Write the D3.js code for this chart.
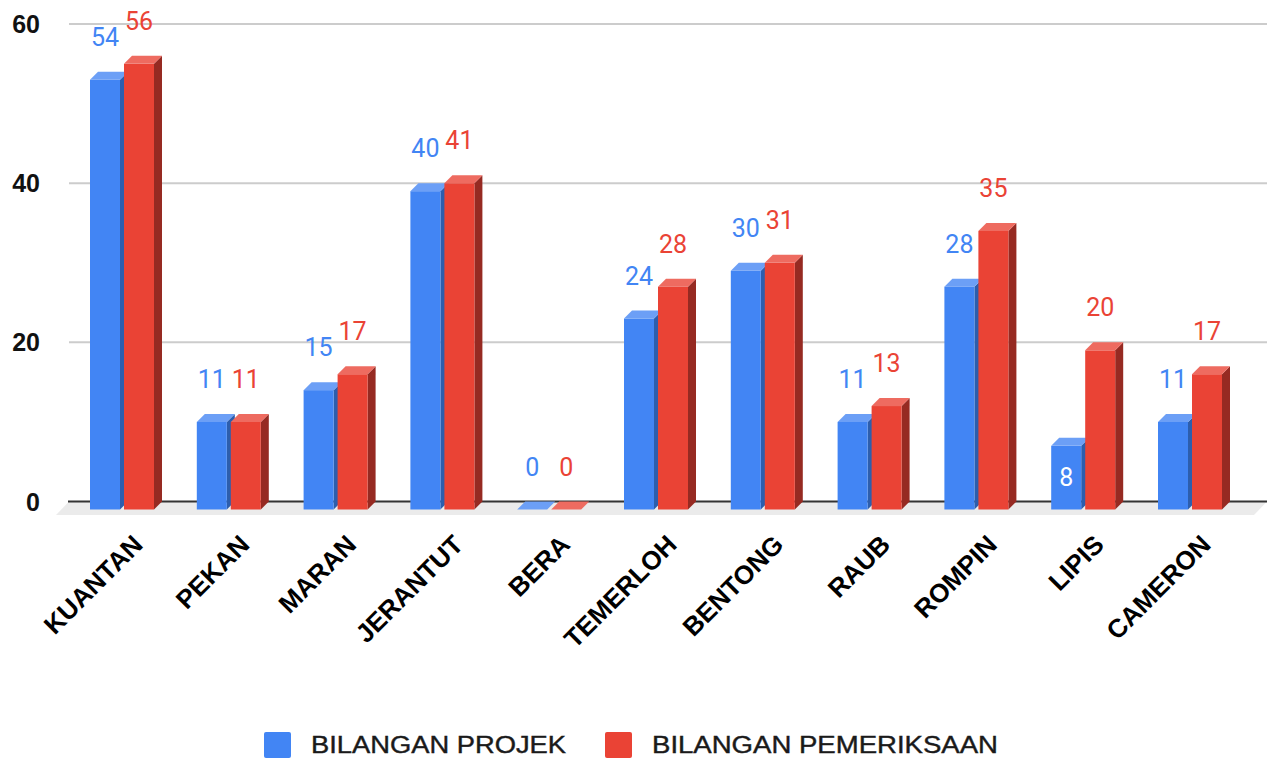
<!DOCTYPE html>
<html>
<head>
<meta charset="utf-8">
<script src="https://cdn.jsdelivr.net/npm/d3@7"></script>
<style>
  body { margin: 0; background: #fff; }
</style>
</head>
<body>
<div id="plot"></div>
<script>
const districts = ["KUANTAN", "PEKAN", "MARAN", "JERANTUT", "BERA", "TEMERLOH", "BENTONG", "RAUB", "ROMPIN", "LIPIS", "CAMERON"];
const projek = [54, 11, 15, 40, 0, 24, 30, 11, 28, 8, 11];
const pemeriksaan = [56, 11, 17, 41, 0, 28, 31, 13, 35, 20, 17];
const seriesNames = ["BILANGAN PROJEK", "BILANGAN PEMERIKSAAN"];
const yTicks = [0, 20, 40, 60];

const width = 1271, height = 761;
const depth = 8;          // 3d offset of the bars
const barW = 30;

const front = ["#4285f4", "#ea4335"];
const topCol = ["#6c9ff6", "#ee6b60"];
const sideCol = ["#2d5ead", "#962a22"];

const svg = d3.select("#plot").append("svg")
  .attr("width", width)
  .attr("height", height)
  .style("font-family", "Arial, 'Liberation Sans', sans-serif");

const y = d3.scaleLinear().domain([0, 60]).range([501.5, 24]);
const x = d3.scaleBand().domain(districts).range([68.6, 1243.4]);

const gridX0 = 69, gridX1 = 1267;

// gridlines
svg.selectAll(".grid")
  .data(yTicks.filter(d => d !== 0))
  .enter().append("line")
  .attr("x1", gridX0).attr("x2", gridX1)
  .attr("y1", d => y(d)).attr("y2", d => y(d))
  .attr("stroke", "#cccccc").attr("stroke-width", 2);

// floor
const y0 = y(0);
svg.append("path")
  .attr("d", `M${gridX0},${y0} L${gridX1},${y0} L${gridX1 - 13},${y0 + 13.5} L${gridX0 - 13},${y0 + 13.5} Z`)
  .attr("fill", "#ebebeb");

svg.append("line")
  .attr("x1", gridX0 - 1).attr("x2", gridX1)
  .attr("y1", y0).attr("y2", y0)
  .attr("stroke", "#333").attr("stroke-width", 2);

// y axis labels
svg.selectAll(".ylab")
  .data(yTicks)
  .enter().append("text")
  .attr("x", 40)
  .attr("y", d => y(d))
  .attr("dy", "0.36em")
  .attr("text-anchor", "end")
  .attr("font-weight", "bold")
  .attr("font-size", 25)
  .attr("fill", "#111")
  .text(d => d);

// bars
const bars = [];
districts.forEach((name, i) => {
  [projek[i], pemeriksaan[i]].forEach((v, s) => {
    const cx = x(name) + x.bandwidth() / 2;
    const fx = cx - 32 + s * 34;
    bars.push({ name, v, s, fx, other: s === 0 ? pemeriksaan[i] : projek[i] });
  });
});

const g = svg.selectAll(".bar").data(bars).enter().append("g");

g.each(function(d) {
  const el = d3.select(this);
  const yt = y(d.v) + depth;     // front top
  const yb = y0 + depth;         // front bottom
  const x0 = d.fx, x1 = d.fx + barW;
  if (d.v > 0) {
    el.append("path")
      .attr("d", `M${x1},${yt} L${x1 + depth},${yt - depth} L${x1 + depth},${yb - depth} L${x1},${yb} Z`)
      .attr("fill", sideCol[d.s]);
    el.append("rect")
      .attr("x", x0).attr("y", yt)
      .attr("width", barW).attr("height", yb - yt)
      .attr("fill", front[d.s]);
  }
  el.append("path")
    .attr("d", `M${x0},${yt} L${x1},${yt} L${x1 + depth},${yt - depth} L${x0 + depth},${yt - depth} Z`)
    .attr("fill", topCol[d.s]);
});

// value labels
svg.selectAll(".val")
  .data(bars)
  .enter().append("text")
  .attr("x", d => d.fx + barW / 2)
  .attr("y", d => {
    const inside = d.v > 0 && d.v < d.other / 2;
    return inside ? y0 - 16 : y(d.v) - 26;
  })
  .attr("text-anchor", "middle")
  .attr("font-family", "Roboto, sans-serif")
  .attr("font-size", 25)
  .attr("fill", d => (d.v > 0 && d.v < d.other / 2) ? "#fff" : front[d.s])
  .text(d => d.v);

// x axis labels
svg.selectAll(".xlab")
  .data(districts)
  .enter().append("text")
  .attr("transform", d => `translate(${x(d) + x.bandwidth() / 2 + 9},533) rotate(-45)`)
  .attr("dy", "0.72em")
  .attr("text-anchor", "end")
  .attr("font-weight", "bold")
  .attr("font-size", 26)
  .attr("fill", "#000")
  .text(d => d);

// legend
const legend = [
  { name: seriesNames[0], sx: 264, tx: 311, tw: 255 },
  { name: seriesNames[1], sx: 605, tx: 652, tw: 346 }
];
legend.forEach((l, i) => {
  svg.append("rect")
    .attr("x", l.sx).attr("y", 732)
    .attr("width", 27).attr("height", 26)
    .attr("rx", 2)
    .attr("fill", front[i]);
  svg.append("text")
    .attr("x", l.tx).attr("y", 753)
    .attr("font-size", 23)
    .attr("fill", "#1a1a1a")
    .attr("stroke", "#1a1a1a")
    .attr("stroke-width", 0.4)
    .attr("textLength", l.tw)
    .attr("lengthAdjust", "spacingAndGlyphs")
    .text(l.name);
});
</script>
</body>
</html>
